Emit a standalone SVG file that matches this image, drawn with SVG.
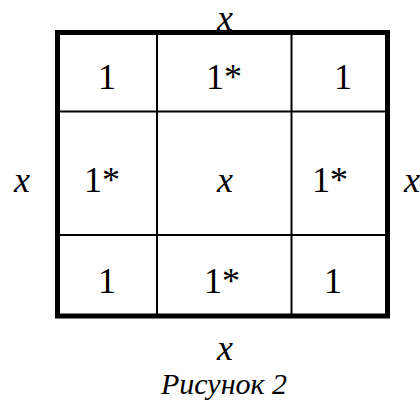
<svg xmlns="http://www.w3.org/2000/svg" width="420" height="401" viewBox="0 0 420 401">
<style>
text{fill:#000;text-anchor:middle}
.thin{stroke:#000;stroke-width:2;fill:none}
</style>
<rect width="420" height="401" fill="#fff"/>
<g id="grid">
<line class="thin" x1="157" y1="33" x2="157" y2="316"/>
<line class="thin" x1="291.5" y1="33" x2="291.5" y2="316"/>
<line class="thin" x1="58" y1="111.5" x2="387" y2="111.5"/>
<line class="thin" x1="58" y1="235" x2="387" y2="235"/>
<rect x="57.5" y="32.5" width="330" height="283.5" fill="none" stroke="#000" stroke-width="5"/>
</g>
<g id="cells" font-family="'Liberation Serif', serif" font-size="36">
<text x="107" y="89">1</text>
<text x="224" y="89">1*</text>
<text x="343" y="89">1</text>
<text x="102" y="192">1*</text>
<text x="225" y="192" font-style="italic">x</text>
<text x="330" y="192">1*</text>
<text x="107" y="293">1</text>
<text x="222" y="293">1*</text>
<text x="333" y="293">1</text>
</g>
<g id="labels" font-family="'Liberation Serif', serif" font-size="36" font-style="italic">
<text x="225" y="30">x</text>
<text x="22" y="192">x</text>
<text x="412" y="192">x</text>
<text x="225" y="360">x</text>
<text x="224" y="394" font-size="30">Рисунок 2</text>
</g>
</svg>
